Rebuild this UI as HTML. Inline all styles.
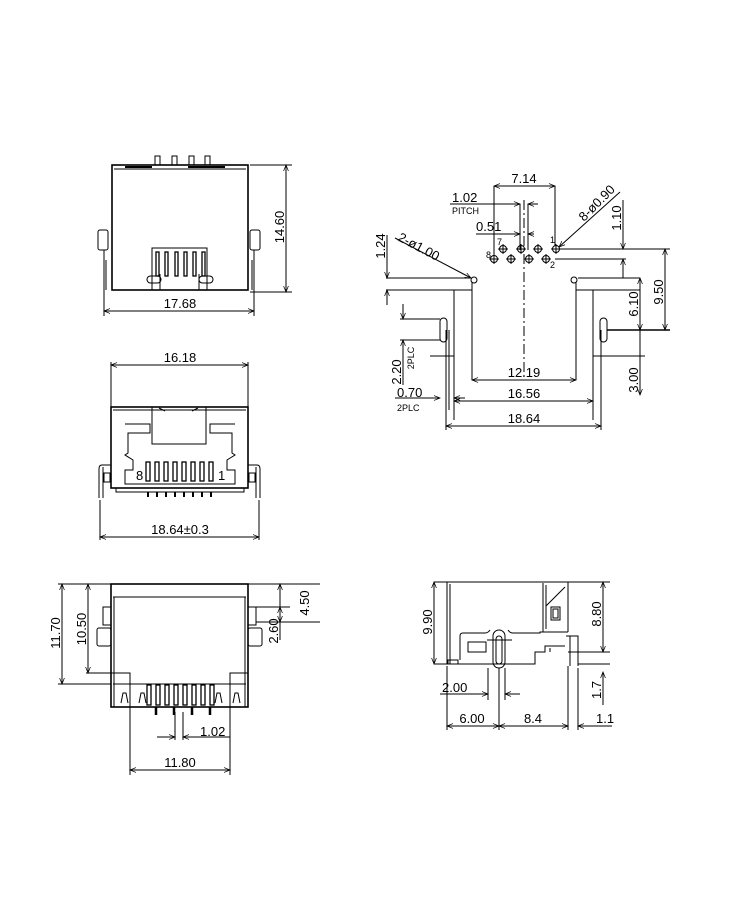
<!DOCTYPE html>
<html><head><meta charset="utf-8"><style>
html,body{margin:0;padding:0;background:#fff}
svg{display:block}
text{font-family:"Liberation Sans",sans-serif;font-size:13px;fill:#000}
.s{font-size:9px}
</style></head><body>
<svg width="750" height="900" viewBox="0 0 750 900" xmlns="http://www.w3.org/2000/svg">
<defs>
<marker id="a" viewBox="0 0 10 10" refX="10" refY="5" markerWidth="8" markerHeight="6" orient="auto-start-reverse" markerUnits="userSpaceOnUse"><path d="M0,1 L10,5 L0,9" fill="none" stroke="#000" stroke-width="1.2"/></marker>
</defs>
<g fill="none" stroke="#000" stroke-width="1">
<!-- VIEW 1 -->
<rect x="112" y="165" width="136" height="125" stroke-width="1.6"/>
<line x1="114" y1="169" x2="246" y2="169"/>
<line x1="125" y1="167" x2="152" y2="167" stroke-width="2"/>
<line x1="188" y1="167" x2="225" y2="167" stroke-width="2"/>
<rect x="155" y="156" width="5" height="9"/><rect x="172" y="156" width="5" height="9"/>
<rect x="189" y="156" width="5" height="9"/><rect x="205" y="156" width="5" height="9"/>
<rect x="98" y="230" width="10" height="20" rx="2"/><rect x="250" y="230" width="10" height="20" rx="2"/>
<line x1="104" y1="250" x2="104" y2="316"/><line x1="254" y1="250" x2="254" y2="316"/>
<line x1="106" y1="260" x2="106" y2="290"/><line x1="252" y1="260" x2="252" y2="290"/>
<path d="M152,290 V248 H207 V290"/>
<g stroke-width="1.3">
<rect x="156" y="252" width="3" height="24"/><rect x="165" y="252" width="3" height="24"/><rect x="175" y="252" width="3" height="24"/><rect x="184" y="252" width="3" height="24"/><rect x="193" y="252" width="3" height="24"/><rect x="202" y="252" width="3" height="24"/>
</g>
<rect x="147" y="276" width="14" height="7" rx="3.5"/><rect x="199" y="276" width="14" height="7" rx="3.5"/>
<path d="M160,274 V290 M199,274 V290"/>
<line x1="104" y1="311" x2="254" y2="311" marker-start="url(#a)" marker-end="url(#a)"/>
<line x1="250" y1="165" x2="292" y2="165"/><line x1="250" y1="292" x2="292" y2="292"/>
<line x1="286" y1="165" x2="286" y2="292" marker-start="url(#a)" marker-end="url(#a)"/>

<!-- VIEW 2 -->
<line x1="386" y1="278" x2="470" y2="278"/><line x1="578" y1="278" x2="640" y2="278"/>
<path d="M472,282 V380 M576,282 V380"/>
<circle cx="474" cy="280" r="3"/><circle cx="574" cy="280" r="3"/>
<line x1="386" y1="290" x2="472" y2="290"/><line x1="576" y1="290" x2="640" y2="290"/>
<path d="M454,290 V420 M593,290 V420"/>
<line x1="446" y1="330" x2="446" y2="430"/><line x1="601" y1="330" x2="601" y2="430"/>
<line x1="449" y1="330" x2="449" y2="410"/>
<rect x="440" y="318" width="7" height="24" rx="3.5"/><rect x="600" y="318" width="7" height="24" rx="3.5"/>
<line x1="400" y1="319" x2="440" y2="319"/><line x1="400" y1="340" x2="440" y2="340"/>
<line x1="430" y1="356" x2="454" y2="356"/><line x1="593" y1="356" x2="605" y2="356"/>
<line x1="607" y1="330" x2="670" y2="330" stroke-width="1.6"/>
<line x1="524" y1="200" x2="524" y2="380" stroke-dasharray="10,3,2,3"/>
<g>
<circle cx="503" cy="249" r="3.5"/><circle cx="521" cy="249" r="3.5"/><circle cx="538" cy="249" r="3.5"/><circle cx="556" cy="249" r="3.5"/>
<circle cx="494" cy="259" r="3.5"/><circle cx="511" cy="259" r="3.5"/><circle cx="529" cy="259" r="3.5"/><circle cx="546" cy="259" r="3.5"/>
<path d="M498,249h10M503,244v10M516,249h10M521,244v10M533,249h10M538,244v10M551,249h10M556,244v10M489,259h10M494,254v10M506,259h10M511,254v10M524,259h10M529,254v10M541,259h10M546,254v10"/>
</g>
<path d="M494,186 V262 M555,186 V246"/>
<line x1="494" y1="186" x2="555" y2="186" marker-start="url(#a)" marker-end="url(#a)"/>
<path d="M520,204 V250 M528,204 V250"/>
<line x1="450" y1="204" x2="520" y2="204" marker-end="url(#a)"/><line x1="538" y1="204" x2="528" y2="204" marker-end="url(#a)"/>
<line x1="476" y1="234" x2="520" y2="234" marker-end="url(#a)"/><line x1="534" y1="234" x2="528" y2="234" marker-end="url(#a)"/>
<line x1="620" y1="192" x2="559" y2="247" marker-end="url(#a)"/>
<line x1="395" y1="238" x2="471" y2="278" marker-end="url(#a)"/>
<line x1="560" y1="249" x2="670" y2="249"/><line x1="555" y1="259" x2="626" y2="259"/>
<line x1="623" y1="200" x2="623" y2="249" marker-end="url(#a)"/><line x1="623" y1="278" x2="623" y2="259" marker-end="url(#a)"/>
<line x1="665" y1="249" x2="665" y2="330" marker-start="url(#a)" marker-end="url(#a)"/>
<line x1="640" y1="278" x2="640" y2="330" marker-start="url(#a)" marker-end="url(#a)"/>
<line x1="640" y1="330" x2="640" y2="395" marker-end="url(#a)"/>
<line x1="596" y1="356" x2="645" y2="356"/>
<line x1="387" y1="235" x2="387" y2="278" marker-end="url(#a)"/><line x1="387" y1="305" x2="387" y2="290" marker-end="url(#a)"/>
<line x1="403" y1="304" x2="403" y2="319" marker-end="url(#a)"/><line x1="403" y1="385" x2="403" y2="340" marker-end="url(#a)"/>
<line x1="472" y1="380" x2="576" y2="380" marker-start="url(#a)" marker-end="url(#a)"/>
<line x1="454" y1="401" x2="593" y2="401" marker-start="url(#a)" marker-end="url(#a)"/>
<line x1="446" y1="426" x2="601" y2="426" marker-start="url(#a)" marker-end="url(#a)"/>
<line x1="395" y1="398" x2="440" y2="398" marker-end="url(#a)"/><line x1="465" y1="398" x2="454" y2="398" marker-end="url(#a)"/>

<!-- VIEW 3 -->
<path d="M111,362 V408 M248,362 V408"/>
<line x1="111" y1="365" x2="248" y2="365" marker-start="url(#a)" marker-end="url(#a)"/>
<rect x="111" y="407" width="137" height="81" stroke-width="1.6"/>
<line x1="113" y1="410" x2="246" y2="410"/>
<path d="M152,407 V444 H206 V407"/>
<path d="M159,408 l6,3 M192,411 l6,-3"/>
<path d="M125,424 H150 V433 H128 V453 L125,455 L133,460 V470 L125,470 L125,484 H235 V470 L227,470 V460 L235,455 L232,453 V433 H210 V424 H235"/>
<g stroke-width="1.3">
<rect x="146" y="462" width="4" height="19"/><rect x="155" y="462" width="4" height="19"/><rect x="164" y="462" width="4" height="19"/><rect x="173" y="462" width="4" height="19"/><rect x="182" y="462" width="4" height="19"/><rect x="191" y="462" width="4" height="19"/><rect x="200" y="462" width="4" height="19"/><rect x="209" y="462" width="4" height="19"/>
</g>
<path d="M111,465 H102 Q99,465 99,469 V498 M248,465 H257 Q260,465 260,469 V498"/>
<path d="M103,467 V498 M256,467 V498"/>
<rect x="104" y="473" width="6" height="9"/><rect x="249" y="473" width="6" height="9"/>
<path d="M116,488 V492 H244 V488"/>
<path d="M148,492v5M157,492v5M166,492v5M175,492v5M184,492v5M193,492v5M202,492v5M211,492v5" stroke-width="2"/>
<path d="M100,500 V540 M259,500 V540"/>
<line x1="100" y1="537" x2="259" y2="537" marker-start="url(#a)" marker-end="url(#a)"/>

<!-- VIEW 4 -->
<rect x="111" y="584" width="137" height="123" stroke-width="1.6"/>
<line x1="113" y1="597" x2="246" y2="597"/><line x1="113" y1="684" x2="246" y2="684"/>
<line x1="114" y1="597" x2="114" y2="707"/><line x1="245" y1="597" x2="245" y2="707"/>
<rect x="103" y="607" width="8" height="18"/><rect x="97" y="628" width="14" height="18" rx="2"/>
<rect x="248" y="607" width="8" height="18"/><rect x="248" y="628" width="14" height="18" rx="2"/>
<path d="M121,703 l2,-10 l3,0 l2,10 M139,703 l2,-10 l3,0 l2,10 M215,703 l2,-10 l3,0 l2,10 M233,703 l2,-10 l3,0 l2,10"/>
<g stroke-width="1.3">
<rect x="147" y="685" width="4" height="20"/><rect x="156" y="685" width="4" height="20"/><rect x="165" y="685" width="4" height="20"/><rect x="174" y="685" width="4" height="20"/><rect x="183" y="685" width="4" height="20"/><rect x="192" y="685" width="4" height="20"/><rect x="201" y="685" width="4" height="20"/><rect x="210" y="685" width="4" height="20"/>
</g>
<path d="M156,707v8M174,707v8M192,707v8M210,707v8" stroke-width="2.5"/>
<line x1="58" y1="584" x2="111" y2="584"/><line x1="58" y1="684" x2="111" y2="684"/>
<line x1="62" y1="584" x2="62" y2="684" marker-start="url(#a)" marker-end="url(#a)"/>
<line x1="88" y1="584" x2="88" y2="673" marker-start="url(#a)" marker-end="url(#a)"/>
<path d="M86,673 H130 V775 M230,775 V673 H248"/>
<line x1="130" y1="770" x2="230" y2="770" marker-start="url(#a)" marker-end="url(#a)"/>
<path d="M175,712 V740 M183,712 V740"/>
<line x1="157" y1="737" x2="175" y2="737" marker-end="url(#a)"/><line x1="230" y1="737" x2="183" y2="737" marker-end="url(#a)"/>
<path d="M248,584 H320 M256,607 H290 M256,622 H320"/>
<line x1="280" y1="584" x2="280" y2="622" marker-start="url(#a)" marker-end="url(#a)"/>
<line x1="280" y1="640" x2="280" y2="607" marker-end="url(#a)"/>

<!-- VIEW 5 -->
<rect x="447" y="582" width="121" height="82" stroke="none"/>
<path d="M447,664 V582 H568 V632 M450,664 V584"/>
<path d="M543,583 V632 H568"/><path d="M546,585 V629 M546,606 L565,587"/>
<rect x="551" y="607" width="9" height="13"/><rect x="553" y="609" width="5" height="9"/>
<path d="M460,636 Q460,633 463,633 H485 Q488,633 490,630 M508,630 Q510,633 513,633 H540 V632 H568"/>
<path d="M460,636 V660"/>
<rect x="468" y="642" width="18" height="10"/>
<rect x="493" y="630" width="12" height="38" rx="6"/><rect x="496" y="636" width="6" height="28" rx="3"/>
<path d="M487,640 H512"/>
<path d="M447,664 H535 V652 H545 V646 H565 M550,652 V648"/>
<rect x="448" y="660" width="10" height="4"/>
<path d="M566,636 H578 V666 M570,636 V666"/>
<path d="M568,652 H610 M578,664 H610"/>
<path d="M434,582 H447 M568,582 H610"/>
<line x1="434" y1="582" x2="434" y2="664" marker-start="url(#a)" marker-end="url(#a)"/>
<line x1="434" y1="664" x2="447" y2="664"/>
<line x1="603" y1="582" x2="603" y2="652" marker-start="url(#a)" marker-end="url(#a)"/>
<line x1="603" y1="705" x2="603" y2="672" marker-end="url(#a)"/>
<path d="M488,668 V700 M505,668 V700 M499,668 V730 M447,666 V730 M568,666 V730 M578,668 V730"/>
<line x1="440" y1="694" x2="488" y2="694" marker-end="url(#a)"/><line x1="520" y1="694" x2="505" y2="694" marker-end="url(#a)"/>
<line x1="447" y1="726" x2="499" y2="726" marker-start="url(#a)" marker-end="url(#a)"/>
<line x1="499" y1="726" x2="568" y2="726" marker-start="url(#a)" marker-end="url(#a)"/>
<line x1="578" y1="726" x2="612" y2="726" marker-start="url(#a)"/>
</g>

<!-- TEXT -->
<text x="180" y="308" text-anchor="middle">17.68</text>
<text transform="translate(284,227) rotate(-90)" text-anchor="middle">14.60</text>
<text x="524" y="183" text-anchor="middle">7.14</text>
<text x="452" y="202">1.02</text>
<text x="452" y="214" class="s">PITCH</text>
<text x="476" y="231">0.51</text>
<text x="497" y="245" class="s">7</text><text x="486" y="258" class="s">8</text>
<text x="550" y="243" class="s">1</text><text x="550" y="268" class="s">2</text>
<text transform="translate(584,222) rotate(-45)">8-ø0.90</text>
<text transform="translate(397,240) rotate(28)">2-ø1.00</text>
<text transform="translate(385,246) rotate(-90)" text-anchor="middle">1.24</text>
<text transform="translate(621,218) rotate(-90)" text-anchor="middle">1.10</text>
<text transform="translate(663,292) rotate(-90)" text-anchor="middle">9.50</text>
<text transform="translate(638,304) rotate(-90)" text-anchor="middle">6.10</text>
<text transform="translate(638,380) rotate(-90)" text-anchor="middle">3.00</text>
<text transform="translate(401,372) rotate(-90)" text-anchor="middle">2.20</text>
<text transform="translate(414,358) rotate(-90)" text-anchor="middle" class="s">2PLC</text>
<text x="397" y="397">0.70</text>
<text x="397" y="411" class="s">2PLC</text>
<text x="524" y="377" text-anchor="middle">12.19</text>
<text x="524" y="398" text-anchor="middle">16.56</text>
<text x="524" y="423" text-anchor="middle">18.64</text>
<text x="180" y="362" text-anchor="middle">16.18</text>
<text x="136" y="480" font-size="11">8</text><text x="218" y="480" font-size="11">1</text>
<text x="180" y="534" text-anchor="middle">18.64±0.3</text>
<text transform="translate(60,633) rotate(-90)" text-anchor="middle">11.70</text>
<text transform="translate(86,629) rotate(-90)" text-anchor="middle">10.50</text>
<text transform="translate(278,631) rotate(-90)" text-anchor="middle">2.60</text>
<text transform="translate(309,603) rotate(-90)" text-anchor="middle">4.50</text>
<text x="200" y="736">1.02</text>
<text x="180" y="767" text-anchor="middle">11.80</text>
<text transform="translate(432,622) rotate(-90)" text-anchor="middle">9.90</text>
<text transform="translate(601,614) rotate(-90)" text-anchor="middle">8.80</text>
<text transform="translate(601,690) rotate(-90)" text-anchor="middle">1.7</text>
<text x="442" y="692">2.00</text>
<text x="472" y="723" text-anchor="middle">6.00</text>
<text x="533" y="723" text-anchor="middle">8.4</text>
<text x="596" y="723">1.1</text>
</svg>
</body></html>
